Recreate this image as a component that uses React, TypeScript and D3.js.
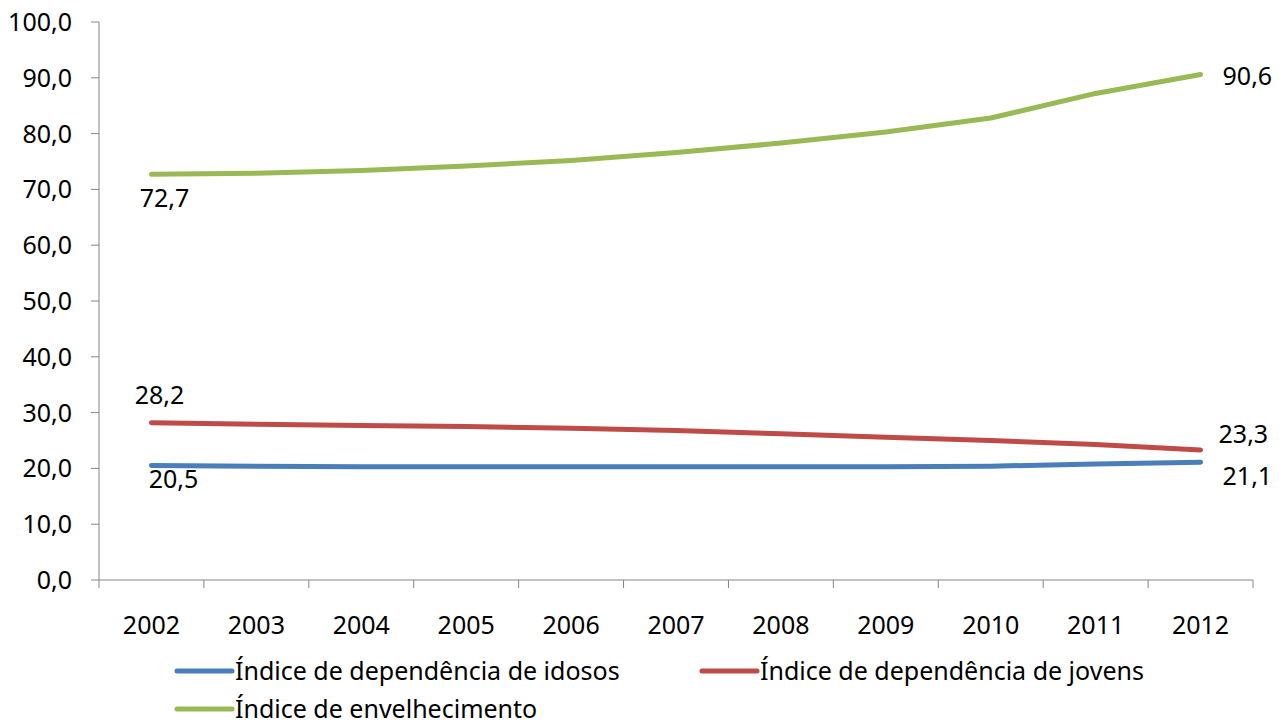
import React from "react";
import * as d3 from "d3";

const years = ["2002","2003","2004","2005","2006","2007","2008","2009","2010","2011","2012"];
const idosos = [20.5, 20.4, 20.3, 20.3, 20.3, 20.3, 20.3, 20.3, 20.4, 20.8, 21.1];
const jovens = [28.2, 27.9, 27.7, 27.5, 27.2, 26.8, 26.2, 25.6, 25.0, 24.3, 23.3];
const envelhecimento = [72.7, 72.9, 73.4, 74.2, 75.2, 76.6, 78.3, 80.3, 82.8, 87.2, 90.6];
const yTicks = [0, 10, 20, 30, 40, 50, 60, 70, 80, 90, 100];
const seriesNames = ["Índice de dependência de idosos", "Índice de dependência de jovens", "Índice de envelhecimento"];
const colors = ["#4a7ebb", "#be4b48", "#98b954"];

const W = 1285, H = 726;
const left = 99, right = 1253, top = 22, bottom = 580;
const font = "'Noto Sans', sans-serif";
const fs = 25;

export default function App() {
  const x = d3.scaleBand().domain(years).range([left, right]);
  const y = d3.scaleLinear().domain([0, 100]).range([bottom, top]);
  const cx = (yr: string) => (x(yr) as number) + x.bandwidth() / 2;
  const data = [idosos, jovens, envelhecimento];
  const line = d3.line<number>().x((_, i) => cx(years[i])).y(d => y(d));
  const fmt = (v: number) => v.toFixed(1).replace(".", ",");
  const first = years[0], last = years[years.length - 1];
  const n = years.length - 1;
  const axisColor = "#868686";

  const labels = [
    { v: envelhecimento[0], x: cx(first) + 13, y: y(envelhecimento[0]) + 33, anchor: "middle" },
    { v: envelhecimento[n], x: cx(last) + 22, y: y(envelhecimento[n]) + 11, anchor: "start" },
    { v: jovens[0], x: cx(first) + 8, y: y(jovens[0]) - 19, anchor: "middle" },
    { v: jovens[n], x: cx(last) + 18, y: y(jovens[n]) - 7, anchor: "start" },
    { v: idosos[0], x: cx(first) + 22, y: y(idosos[0]) + 22, anchor: "middle" },
    { v: idosos[n], x: cx(last) + 22, y: y(idosos[n]) + 23, anchor: "start" },
  ];

  const legend = [
    { lx: 177, ly: 671 },
    { lx: 702, ly: 671 },
    { lx: 177, ly: 709 },
  ];

  return (
    <svg width={W} height={H} style={{ position: "absolute", left: 0, top: 0, background: "#fff" }} fontFamily={font}>
      {/* y axis */}
      <line x1={left} x2={left} y1={top} y2={bottom} stroke={axisColor} strokeWidth={1} />
      {yTicks.map(t => (
        <g key={t}>
          <line x1={left - 8} x2={left} y1={y(t)} y2={y(t)} stroke={axisColor} />
          <text x={left - 27} y={y(t)} dy="0.36em" textAnchor="end" fontSize={fs} fill="#000">{fmt(t)}</text>
        </g>
      ))}
      {/* x axis */}
      <line x1={left} x2={right} y1={bottom} y2={bottom} stroke={axisColor} />
      {[...years.map(yr => x(yr) as number), right].map((px, i) => (
        <line key={i} x1={px} x2={px} y1={bottom} y2={bottom + 8} stroke={axisColor} />
      ))}
      {years.map(yr => (
        <text key={yr} x={cx(yr)} y={634} textAnchor="middle" fontSize={fs} fill="#000">{yr}</text>
      ))}
      {/* lines */}
      {data.map((s, i) => (
        <path key={i} d={line(s) as string} fill="none" stroke={colors[i]} strokeWidth={5} strokeLinecap="round" strokeLinejoin="round" />
      ))}
      {/* labels */}
      {labels.map((l, i) => (
        <text key={i} x={l.x} y={l.y} textAnchor={l.anchor as any} fontSize={fs} fill="#000">{fmt(l.v)}</text>
      ))}
      {/* legend */}
      {legend.map((l, i) => (
        <g key={i}>
          <line x1={l.lx} x2={l.lx + 55} y1={l.ly} y2={l.ly} stroke={colors[i]} strokeWidth={5} strokeLinecap="round" />
          <text x={l.lx + 58} y={l.ly} dy="0.36em" fontSize={fs} fill="#000">{seriesNames[i]}</text>
        </g>
      ))}
    </svg>
  );
}
